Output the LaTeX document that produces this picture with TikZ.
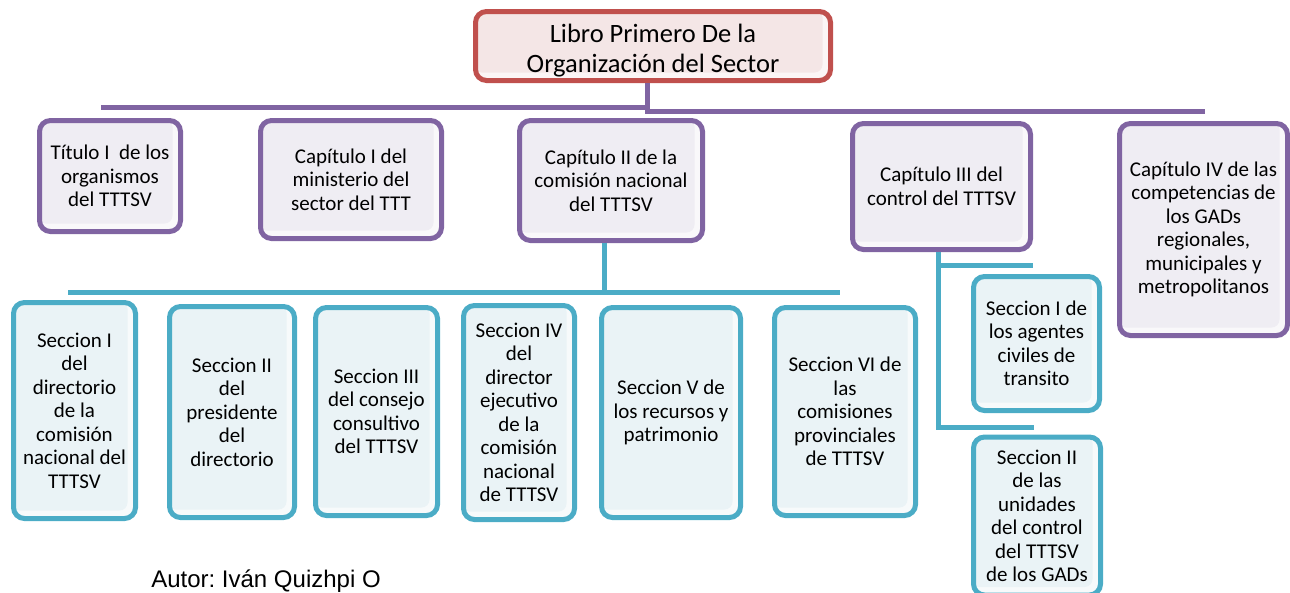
\documentclass[tikz,border=0pt]{standalone}
\usepackage{fontspec}
\setmainfont{Carlito}
\newfontfamily\arialf{Liberation Sans}
\frenchspacing
\definecolor{purp}{HTML}{8064A2}
\definecolor{purpfill}{HTML}{EFEDF3}
\definecolor{cyanline}{HTML}{4BACC6}
\definecolor{cyanfill}{HTML}{EAF3F6}
\definecolor{redline}{HTML}{C0504D}
\definecolor{redfill}{HTML}{F4E6E6}
\begin{document}
\begin{tikzpicture}[x=1pt,y=-1pt,
  inner/.style={path picture={
    \fill[white!60!#1] (path picture bounding box.south west) rectangle (path picture bounding box.north east);
    \fill[#1, rounded corners=8pt] ([shift={(-2pt,2pt)}]path picture bounding box.north west) rectangle ([shift={(-8pt,8pt)}]path picture bounding box.south east);}},
  box/.style={draw, line width=5pt, rounded corners=11pt, align=center, inner sep=2pt, text=black,
    font=\fontsize{21}{23.5}\selectfont},
  pbox/.style={box, draw=purp, inner=purpfill},
  cbox/.style={box, draw=cyanline, inner=cyanfill},
  rbox/.style={box, draw=redline, inner=redfill, font=\fontsize{26.5}{30}\selectfont},
  pconn/.style={draw=purp, line width=5pt},
  cconn/.style={draw=cyanline, line width=5pt},
]
\useasboundingbox (0,0) rectangle (1290,592);

% top
\node[rbox, minimum width=355pt, minimum height=69pt] (top) at (653,46) {\rule{0pt}{28pt}Libro Primero De la\\Organización del Sector};

% level 2
\node[pbox, minimum width=141pt, minimum height=111pt] (t1) at (110,176) {Título I~ de los\\organismos\\del TTTSV};
\node[pbox, minimum width=181pt, minimum height=118pt] (t2) at (351,179.5) {Capítulo I del\\ministerio del\\sector del TTT};
\node[pbox, minimum width=183pt, minimum height=120pt] (t3) at (611,180.5) {Capítulo II de la\\comisión nacional\\del TTTSV};
\node[pbox, minimum width=178pt, minimum height=126pt] (t4) at (941.5,186.5) {Capítulo III del\\control del TTTSV};
\node[pbox, minimum width=168pt, minimum height=212pt] (t5) at (1203.5,229.5) {Capítulo IV de las\\competencias de\\los GADs\\regionales,\\municipales y\\metropolitanos};

% level 3
\node[cbox, minimum width=122pt, minimum height=216pt] (s1) at (74.5,410.5) {Seccion I\\del\\directorio\\de la\\comisión\\nacional del\\TTTSV};
\node[cbox, minimum width=125pt, minimum height=211pt] (s2) at (232,412) {Seccion II\\del\\presidente\\del\\directorio};
\node[cbox, minimum width=122pt, minimum height=208pt] (s3) at (376.5,411.5) {Seccion III\\del consejo\\consultivo\\del TTTSV};
\node[cbox, minimum width=111pt, minimum height=214pt] (s4) at (519,412.5) {Seccion IV\\del\\director\\ejecutivo\\de la\\comisión\\nacional\\de TTTSV};
\node[cbox, minimum width=139pt, minimum height=210pt] (s5) at (671,412.5) {Seccion V de\\los recursos y\\patrimonio};
\node[cbox, minimum width=141pt, minimum height=208pt] (s6) at (845,411.5) {Seccion VI de\\las\\comisiones\\provinciales\\de TTTSV};
\node[cbox, minimum width=126pt, minimum height=134pt] (c1) at (1036.5,343.5) {Seccion I de\\los agentes\\civiles de\\transito};
\node[cbox, minimum width=127pt, minimum height=158pt] (c2) at (1037,516) {Seccion II\\de las\\unidades\\del control\\del TTTSV\\de los GADs};

% connectors purple
\coordinate (hl) at (101,107);
\coordinate (hm) at (649.5,107);
\coordinate (hm2) at (647,111);
\coordinate (hm3) at (644.5,111);
\coordinate (hr) at (1205,111);
\draw[pconn] (top.south -| hm2) -- (hm2);
\draw[pconn] (hl) -- (hm);
\draw[pconn] (hm3) -- (hr);

% connectors cyan
\coordinate (cv) at (604,292);
\coordinate (cl) at (68,292);
\coordinate (cr) at (840,292);
\draw[cconn] (t3.south -| cv) -- (cv);
\draw[cconn] (cl) -- (cr);

\coordinate (dv1) at (938,265);
\coordinate (dv2) at (938,427);
\coordinate (de1) at (1033,265);
\coordinate (de2) at (1034,427);
\draw[cconn] (t4.south -| dv1) -- (dv2) -- (de2);
\draw[cconn] (dv1) -- (de1);

% author
\node[font=\arialf\fontsize{24}{27}\selectfont, anchor=base, inner sep=0pt] (autor) at (266,587) {Autor: Iván Quizhpi O};
\end{tikzpicture}
\end{document}
